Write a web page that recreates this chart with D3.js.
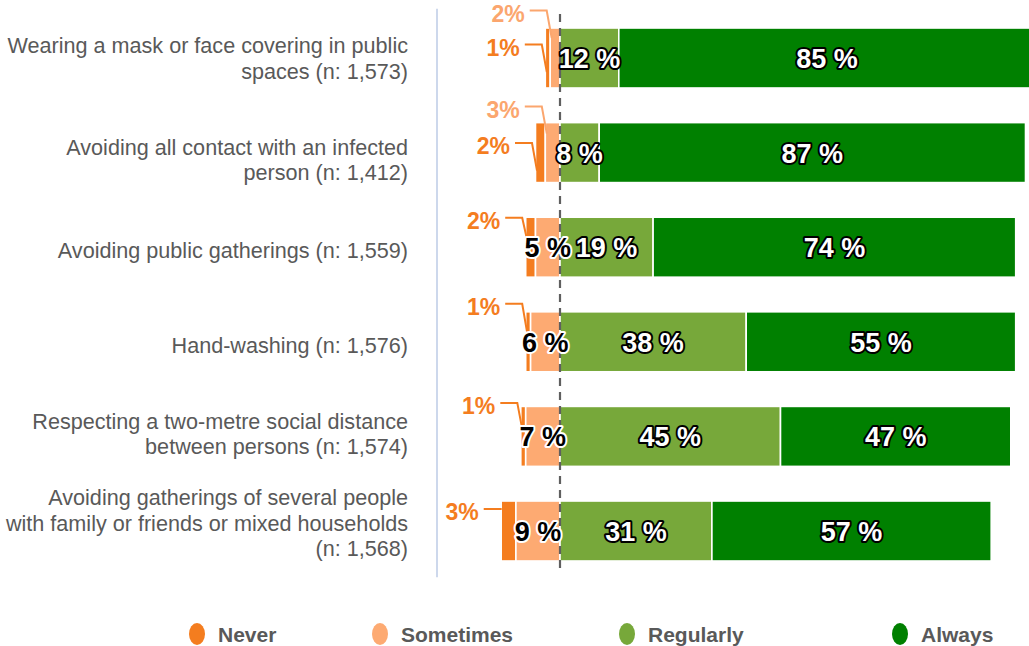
<!DOCTYPE html>
<html>
<head>
<meta charset="utf-8">
<script src="https://cdn.jsdelivr.net/npm/d3@7/dist/d3.min.js"></script>
<style>
  html, body { margin: 0; padding: 0; background: #fff; }
  svg { display: block; }
  text { font-family: "Liberation Sans", Arial, Helvetica, sans-serif; }
</style>
</head>
<body>
<svg id="chart" width="1029" height="646"></svg>
<script>
// Survey items (each label split into its display lines)
const categories = [
  ["Wearing a mask or face covering in public", "spaces (n: 1,573)"],
  ["Avoiding all contact with an infected", "person (n: 1,412)"],
  ["Avoiding public gatherings (n: 1,559)"],
  ["Hand-washing (n: 1,576)"],
  ["Respecting a two-metre social distance", "between persons (n: 1,574)"],
  ["Avoiding gatherings of several people", "with family or friends or mixed households", "(n: 1,568)"]
];
const seriesNames = ["Never", "Sometimes", "Regularly", "Always"];

// Shares of respondents, in percent
const never     = [1, 2, 2, 1, 1, 3];
const sometimes = [2, 3, 5, 6, 7, 9];
const regularly = [12, 8, 19, 38, 45, 31];
const always    = [85, 87, 74, 55, 47, 57];

// ---- layout / style ----
const colors = {
  Never: "#F47D1F",
  Sometimes: "#FDAA72",
  Regularly: "#77A83A",
  Always: "#008000"
};
const calloutText = { Never: "#F47D1F", Sometimes: "#FBA66E" };
const greyText = "#595959";
const fontFamily = '"Liberation Sans", Arial, Helvetica, sans-serif';

// Callout placement per row (offsets from the bar top): label centre, leader end
const neverCallout = [
  { labelDy: 19.5, endDy: 44 },
  { labelDy: 23.5, endDy: 48 },
  { labelDy: 3.5,  endDy: 23 },
  { labelDy: -5,   endDy: 21 },
  { labelDy: -0.5, endDy: 23 },
  { labelDy: 11,   endDy: null }   // straight leader into the bar side
];
const sometimesCallout = [
  { labelDy: -14.5, endDy: 10 },
  { labelDy: -13,   endDy: 11 },
  null, null, null, null
];
// Vertical nudge of each row label block
const rowLabelShift = [1, 8, 4, 4, -2, -7.5];
const legendX = [197, 380, 627, 900];

const svg = d3.select("#chart");

const x = d3.scaleLinear().domain([-100, 100]).range([70, 1050]);
const y = d3.scaleBand()
  .domain(d3.range(categories.length))
  .range([10.7, 578.3])
  .paddingInner(0.366)
  .paddingOuter(0.183);

// Build stacked segments: negative side (Never, Sometimes), positive side (Regularly, Always)
const rows = categories.map((c, i) => {
  const segs = [];
  segs.push({ key: "Never", v: never[i], x0: -(never[i] + sometimes[i]), x1: -sometimes[i] });
  segs.push({ key: "Sometimes", v: sometimes[i], x0: -sometimes[i], x1: 0 });
  segs.push({ key: "Regularly", v: regularly[i], x0: 0, x1: regularly[i] });
  segs.push({ key: "Always", v: always[i], x0: regularly[i], x1: regularly[i] + always[i] });
  return { i, label: c, segs };
});

// Vertical axis line
svg.append("line")
  .attr("x1", 437).attr("x2", 437)
  .attr("y1", y.range()[0] - 2).attr("y2", y.range()[1] - 1)
  .attr("stroke", "#CDD8EC").attr("stroke-width", 2);

// Row labels
const labelG = svg.append("g");
rows.forEach(r => {
  const n = r.label.length;
  const lh = 25.5;
  const cy = y(r.i) + y.bandwidth() / 2 + rowLabelShift[r.i];
  const t = labelG.append("text")
    .attr("text-anchor", "end")
    .attr("fill", greyText)
    .attr("font-size", 21.6)
    .attr("font-family", fontFamily);
  r.label.forEach((line, k) => {
    t.append("tspan")
      .attr("x", 408)
      .attr("y", cy + (k - (n - 1) / 2) * lh + 7)
      .text(line);
  });
});

// Bars
const barG = svg.append("g");
rows.forEach(r => {
  barG.selectAll(null)
    .data(r.segs)
    .join("rect")
    .attr("x", d => x(d.x0))
    .attr("width", d => x(d.x1) - x(d.x0))
    .attr("y", y(r.i))
    .attr("height", y.bandwidth())
    .attr("fill", d => colors[d.key])
    .attr("stroke", "#fff")
    .attr("stroke-width", 1.6);
});

// Zero reference line
svg.append("line")
  .attr("x1", x(0)).attr("x2", x(0))
  .attr("y1", 14).attr("y2", 570)
  .attr("stroke", "#5F5F5F")
  .attr("stroke-width", 2.2)
  .attr("stroke-dasharray", "8,6");

// Callouts for small shares
const calloutG = svg.append("g");
function callout(seg, top, cfg) {
  const col = calloutText[seg.key];
  const ty = top + cfg.labelDy;
  const ly = ty - 3;
  let pts;
  if (cfg.endDy === null) {
    const endX = x(seg.x0) + 0.5;
    pts = [[endX - 18, ly], [endX, ly]];
  } else {
    const endX = x(seg.x0) + 1.5;
    const elbowX = endX - 5;
    pts = [[elbowX - 17, ly], [elbowX, ly], [endX, top + cfg.endDy]];
  }
  calloutG.append("path")
    .attr("d", d3.line()(pts))
    .attr("fill", "none")
    .attr("stroke", col)
    .attr("stroke-width", 2);
  calloutG.append("text")
    .attr("x", pts[0][0] - 5)
    .attr("y", ty + 8.2)
    .attr("text-anchor", "end")
    .attr("font-size", 23)
    .attr("font-weight", "bold")
    .attr("fill", col)
    .text(seg.v + "%");
}

// Value labels inside bars
const valG = svg.append("g");
rows.forEach(r => {
  const top = y(r.i);
  const cy = top + y.bandwidth() / 2;
  r.segs.forEach(s => {
    if (s.key === "Never") {
      callout(s, top, neverCallout[r.i]);
      return;
    }
    if (s.key === "Sometimes" && s.v < 5) {
      callout(s, top, sometimesCallout[r.i]);
      return;
    }
    const light = s.key !== "Sometimes";
    valG.append("text")
      .attr("x", (x(s.x0) + x(s.x1)) / 2)
      .attr("y", cy + 10)
      .attr("text-anchor", "middle")
      .attr("font-size", 27)
      .attr("font-weight", "bold")
      .attr("fill", light ? "#fff" : "#000")
      .attr("stroke", light ? "#000" : "#fff")
      .attr("stroke-width", 4)
      .attr("stroke-linejoin", "round")
      .attr("paint-order", "stroke")
      .text(s.v + " %");
  });
});

// Legend
const legG = svg.append("g");
seriesNames.forEach((name, k) => {
  legG.append("ellipse")
    .attr("cx", legendX[k]).attr("cy", 634)
    .attr("rx", 8).attr("ry", 11)
    .attr("fill", colors[name]);
  legG.append("text")
    .attr("x", legendX[k] + 21)
    .attr("y", 642)
    .attr("font-size", 21)
    .attr("font-weight", "bold")
    .attr("fill", greyText)
    .text(name);
});
</script>
</body>
</html>
